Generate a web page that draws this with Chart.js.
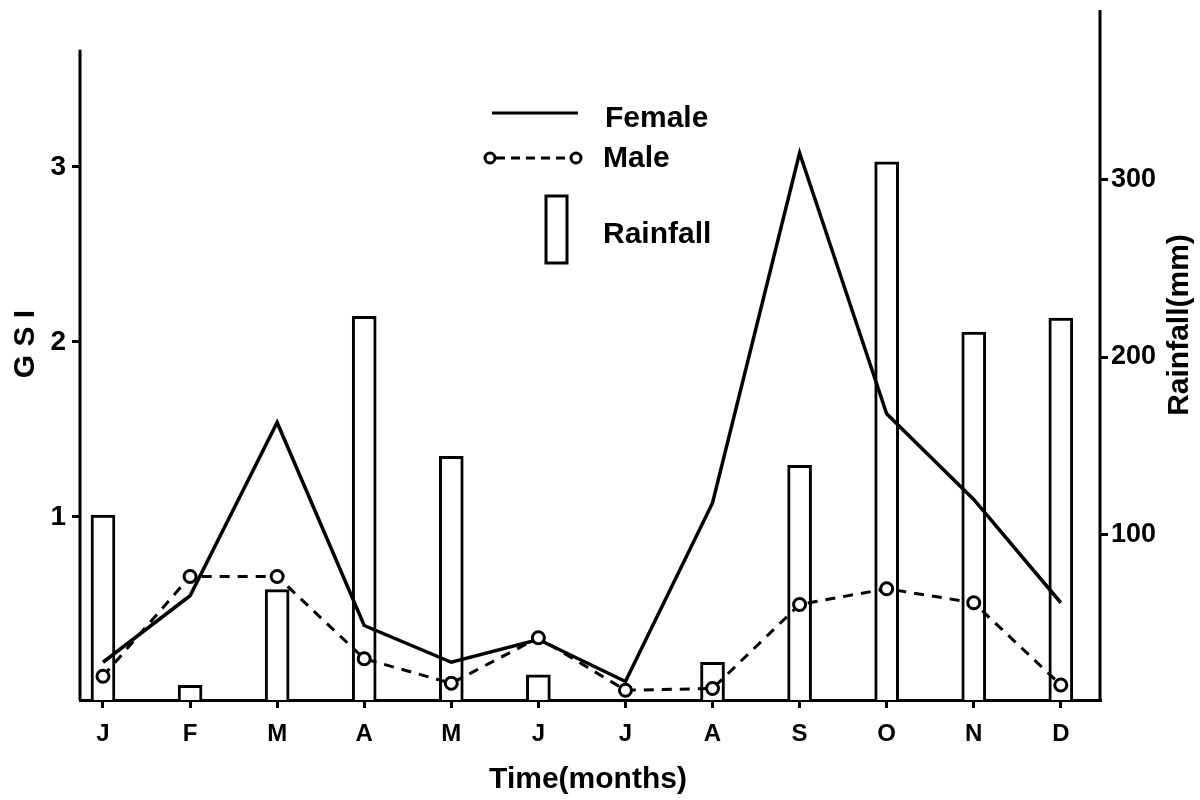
<!DOCTYPE html>
<html>
<head>
<meta charset="utf-8">
<title>GSI and rainfall</title>
<script src="https://cdn.jsdelivr.net/npm/chart.js@4.4.1/dist/chart.umd.min.js"></script>
<style>
  html, body { margin: 0; padding: 0; background: #fff; }
  #wrap { width: 1200px; height: 800px; }
</style>
</head>
<body>
<div id="wrap"><canvas id="gsiChart" width="1200" height="800"></canvas></div>
<script>
// Données
const months = ['J', 'F', 'M', 'A', 'M', 'J', 'J', 'A', 'S', 'O', 'N', 'D'];
const female = [0.17, 0.55, 1.54, 0.38, 0.17, 0.30, 0.06, 1.08, 3.08, 1.59, 1.10, 0.51];
const male = [0.09, 0.66, 0.66, 0.19, 0.05, 0.31, 0.01, 0.02, 0.50, 0.59, 0.51, 0.04];
const rainfall = [111, 15, 69, 223, 144, 21, 0, 28, 139, 310, 214, 222];
const gsiTicks = [1, 2, 3];
const rainTicks = [100, 200, 300];

const FONT = "'Liberation Sans', Arial, sans-serif";

function toPoints(values) {
    return values.map((v, i) => ({ x: i, y: v }));
}

// Axes, légende et titres dessinés à la main
const decorPlugin = {
    id: 'decor',
    afterDraw(chart) {
        const ctx = chart.ctx;
        const area = chart.chartArea;
        const y = chart.scales.y;

        ctx.save();
        ctx.strokeStyle = '#000';
        ctx.fillStyle = '#000';
        ctx.lineWidth = 3;

        // axe gauche (plus court) et axe droit
        ctx.beginPath();
        ctx.moveTo(area.left, y.getPixelForValue(3.67));
        ctx.lineTo(area.left, area.bottom);
        ctx.moveTo(area.right, area.top);
        ctx.lineTo(area.right, area.bottom);
        ctx.stroke();

        // légende
        ctx.beginPath();
        ctx.moveTo(492, 113);
        ctx.lineTo(578, 113);
        ctx.stroke();

        ctx.setLineDash([9, 6]);
        ctx.beginPath();
        ctx.moveTo(496, 158);
        ctx.lineTo(570, 158);
        ctx.stroke();
        ctx.setLineDash([]);
        [490, 576].forEach((cx) => {
            ctx.beginPath();
            ctx.arc(cx, 158, 5, 0, Math.PI * 2);
            ctx.fillStyle = '#fff';
            ctx.fill();
            ctx.stroke();
        });
        ctx.fillStyle = '#000';
        ctx.strokeRect(546, 196, 21, 67);

        ctx.font = 'bold 30px ' + FONT;
        ctx.textAlign = 'left';
        ctx.textBaseline = 'alphabetic';
        ctx.fillText('Female', 605, 127);
        ctx.fillText('Male', 603, 167);
        ctx.fillText('Rainfall', 603, 243);

        // titre de l'axe x
        ctx.textAlign = 'center';
        ctx.textBaseline = 'middle';
        ctx.fillText('Time(months)', 588, 780);

        // titres verticaux
        ctx.save();
        ctx.translate(26, 344);
        ctx.rotate(-Math.PI / 2);
        ctx.font = 'bold 30px ' + FONT;
        ctx.fillText('G S I', 0, 0);
        ctx.restore();

        ctx.save();
        ctx.translate(1180, 325);
        ctx.rotate(-Math.PI / 2);
        ctx.font = 'bold 30px ' + FONT;
        ctx.fillText('Rainfall(mm)', 0, 0);
        ctx.restore();

        ctx.restore();
    }
};

const tickGrid = {
    display: true,
    drawOnChartArea: false,
    drawTicks: true,
    offset: false,
    tickLength: 8,
    color: '#000',
    lineWidth: 3
};

// pas de marge automatique pour les étiquettes
function noPadding(scale) {
    scale.paddingTop = 0;
    scale.paddingBottom = 0;
    scale.paddingLeft = 0;
    scale.paddingRight = 0;
}

const ctx = document.getElementById('gsiChart').getContext('2d');

const chartInstance = new Chart(ctx, {
    type: 'bar',
    data: {
        datasets: [
            {
                type: 'line',
                label: 'Female',
                data: toPoints(female),
                yAxisID: 'y',
                borderColor: '#000',
                borderWidth: 3.5,
                pointRadius: 0,
                tension: 0,
                fill: false,
                order: 2
            },
            {
                type: 'line',
                label: 'Male',
                data: toPoints(male),
                yAxisID: 'y',
                borderColor: '#000',
                borderWidth: 3,
                borderDash: [10, 8],
                pointRadius: 6,
                pointBorderWidth: 3,
                pointBackgroundColor: '#fff',
                pointBorderColor: '#000',
                tension: 0,
                fill: false,
                order: 1
            },
            {
                type: 'bar',
                label: 'Rainfall',
                data: toPoints(rainfall),
                yAxisID: 'y2',
                backgroundColor: '#fff',
                borderColor: '#000',
                borderWidth: 3,
                borderSkipped: 'bottom',
                barThickness: 24,
                clip: 0,
                order: 3
            }
        ]
    },
    options: {
        responsive: false,
        animation: false,
        layout: { padding: { top: 10, left: 0, right: 0, bottom: 0 } },
        plugins: {
            legend: { display: false },
            tooltip: { enabled: false }
        },
        scales: {
            x: {
                type: 'linear',
                offset: false,
                min: -0.264,
                max: 11.45,
                afterBuildTicks: (scale) => {
                    scale.ticks = months.map((m, i) => ({ value: i }));
                },
                afterFit: (scale) => { scale.height = 100; noPadding(scale); },
                ticks: {
                    callback: (v) => months[v],
                    color: '#000',
                    font: { family: FONT, size: 24, weight: 'bold' },
                    padding: 12,
                    maxRotation: 0,
                    autoSkip: false
                },
                grid: tickGrid,
                border: { display: true, color: '#000', width: 3 }
            },
            y: {
                position: 'left',
                min: -0.0457,
                max: 3.897,
                afterBuildTicks: (scale) => {
                    scale.ticks = gsiTicks.map((v) => ({ value: v }));
                },
                afterFit: (scale) => { scale.width = 80; noPadding(scale); },
                ticks: {
                    color: '#000',
                    font: { family: FONT, size: 28, weight: 'bold' },
                    padding: 6
                },
                grid: tickGrid,
                border: { display: false }
            },
            y2: {
                position: 'right',
                min: 6.8,
                max: 395.5,
                afterBuildTicks: (scale) => {
                    scale.ticks = rainTicks.map((v) => ({ value: v }));
                },
                afterFit: (scale) => { scale.width = 100; noPadding(scale); },
                ticks: {
                    color: '#000',
                    font: { family: FONT, size: 27, weight: 'bold' },
                    padding: 3
                },
                grid: tickGrid,
                border: { display: false }
            }
        }
    },
    plugins: [decorPlugin]
});
</script>
</body>
</html>
